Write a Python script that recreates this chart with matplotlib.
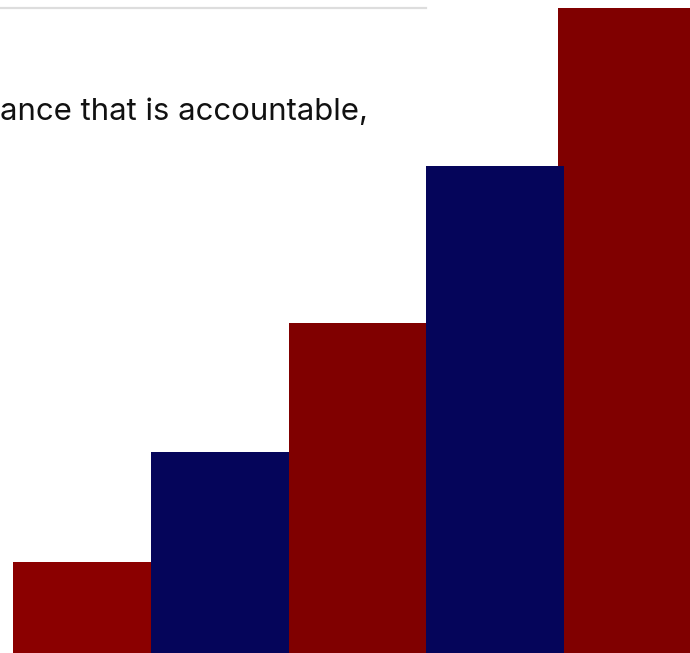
import numpy as np
import matplotlib
matplotlib.use("Agg")
import matplotlib.pyplot as plt
from matplotlib.lines import Line2D

# -------------------------------------------------------
# Data (bar heights)
# -------------------------------------------------------
categories = ["A", "B", "C", "D", "E"]
values = [91, 201, 330, 487, 645]
caption = "ance that is accountable,"

# -------------------------------------------------------
# Layout / styles
# -------------------------------------------------------
W, H = 690, 653
BAR_PX = 137.8         # bar width in pixels
LEFT_PX = 13           # left edge of first bar
RED = "#800000"
RED_FIRST = "#8b0000"
NAVY = "#05055a"
colors = [RED_FIRST, NAVY, RED, NAVY, RED]

fig = plt.figure(figsize=(W / 100, H / 100), dpi=100)
ax = fig.add_axes([0, 0, 1, 1])
ax.set_axis_off()

x0 = -LEFT_PX / BAR_PX
ax.set_xlim(x0, x0 + W / BAR_PX)
ax.set_ylim(0, H)

lefts = np.arange(len(categories), dtype=float)
lefts[-1] -= 6 / BAR_PX   # last bar sits a little under the fourth one
zorders = [2, 3, 2, 3, 1]
for left, v, c, z in zip(lefts, values, colors, zorders):
    ax.bar(left, v, width=1.0, align="edge", color=c, linewidth=0, zorder=z)

# gray rule and caption text at the top
fig.add_artist(Line2D([0, 426 / W], [1 - 8 / H, 1 - 8 / H],
                      transform=fig.transFigure, color="#dddddd", linewidth=1.6))
fig.text(0.0, 1 - 120 / H, caption, fontsize=22.4, family=["Inter", "DejaVu Sans"],
         color="#111111", ha="left", va="baseline")

fig.savefig("out.png", dpi=100)
